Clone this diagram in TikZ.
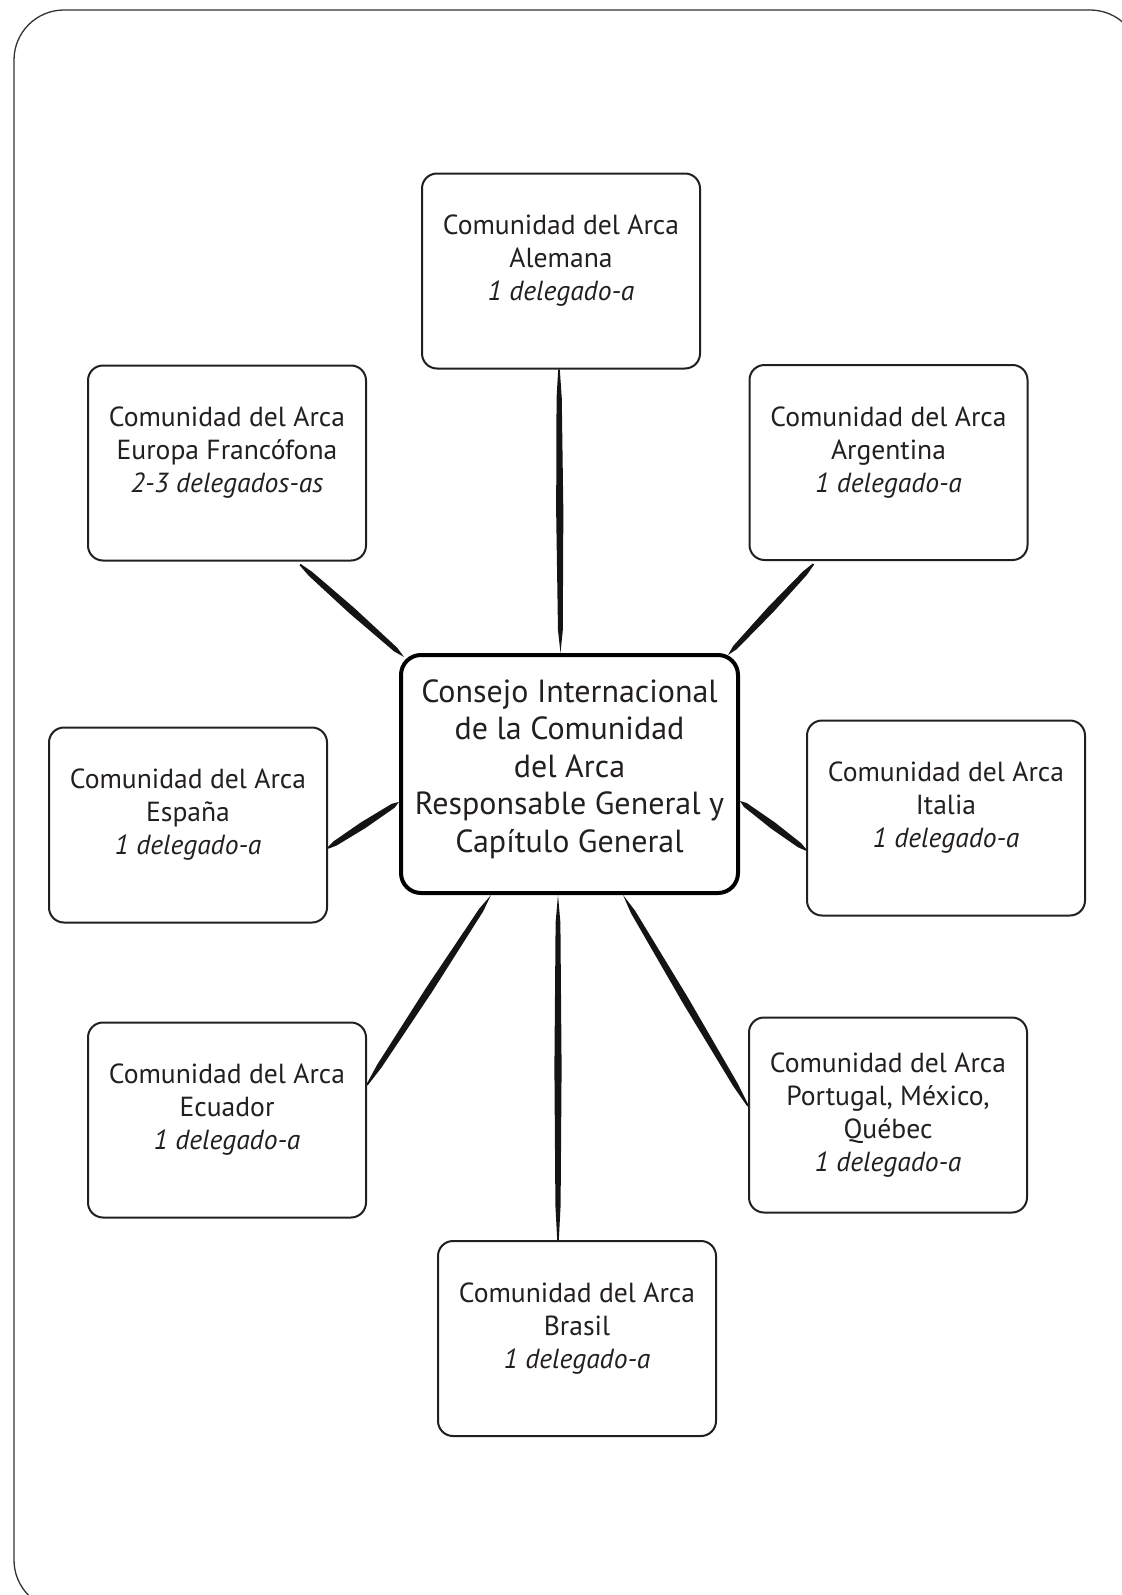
\documentclass[tikz,border=0pt]{standalone}
\usepackage{fontspec}
\setmainfont{PT Sans}
\usetikzlibrary{calc}
\definecolor{ink}{HTML}{231F20}
\tikzset{
  box/.style={draw=ink, line width=1pt, rounded corners=7.5pt, fill=white,
    minimum width=139pt, minimum height=97.5pt, inner sep=0pt},
  cbox/.style={draw=black, line width=2pt, rounded corners=10pt, fill=white,
    minimum width=168.5pt, minimum height=119pt, inner sep=0pt},
  btext/.style={align=center, text=ink, font=\fontsize{13.8}{16.5}\selectfont, inner sep=0pt},
  ctext/.style={align=center, text=ink, font=\fontsize{16}{18.7}\selectfont, inner sep=0pt},
  frame/.style={draw=black!80, line width=0.65pt, rounded corners=25pt},
  brushfill/.style={fill=black!92}
}
\newcommand{\brush}[2]{%
  \fill[brushfill] ($(#1)!0.4pt!90:(#2)$)
   -- ($(#1)!0.1!(#2)!1.3pt!90:(#2)$)
   -- ($(#1)!0.5!(#2)!1.8pt!90:(#2)$)
   -- ($(#1)!0.92!(#2)!1.2pt!90:(#2)$)
   -- (#2)
   -- ($(#1)!0.92!(#2)!1.2pt!-90:(#2)$)
   -- ($(#1)!0.5!(#2)!1.8pt!-90:(#2)$)
   -- ($(#1)!0.1!(#2)!1.3pt!-90:(#2)$)
   -- ($(#1)!0.4pt!-90:(#2)$)
   -- cycle;}
\begin{document}
\begin{tikzpicture}[x=0.5pt, y=-0.5pt]
\useasboundingbox (0,0) rectangle (1122,1595);
\draw[frame] (14,10) rectangle (1140,1610);

% boxes
\node[box] (ale) at (561,271) {};
\node[box] (eur) at (227,463) {};
\node[box] (arg) at (888.5,462.5) {};
\node[box] (esp) at (188,825) {};
\node[box] (ita) at (946,818) {};
\node[box] (ecu) at (227,1120) {};
\node[box] (por) at (888,1115) {};
\node[box] (bra) at (577,1338.5) {};
\node[cbox] (cen) at (569.5,774) {};

% texts
\node[btext] (ale-t) at ($(ale)+(0,-10)$) {Comunidad del Arca\\Alemana\\\textit{1 delegado-a}};
\node[btext] (eur-t) at ($(eur)+(0,-10)$) {Comunidad del Arca\\Europa Francófona\\\textit{2-3 delegados-as}};
\node[btext] (arg-t) at ($(arg)+(0,-10)$) {Comunidad del Arca\\Argentina\\\textit{1 delegado-a}};
\node[btext] (esp-t) at ($(esp)+(0,-10)$) {Comunidad del Arca\\España\\\textit{1 delegado-a}};
\node[btext] (ita-t) at ($(ita)+(0,-10)$) {Comunidad del Arca\\Italia\\\textit{1 delegado-a}};
\node[btext] (ecu-t) at ($(ecu)+(0,-10)$) {Comunidad del Arca\\Ecuador\\\textit{1 delegado-a}};
\node[btext] (por-t) at ($(por)+(0,0)$) {Comunidad del Arca\\Portugal, México,\\Québec\\\textit{1 delegado-a}};
\node[btext] (bra-t) at ($(bra)+(0,-10)$) {Comunidad del Arca\\Brasil\\\textit{1 delegado-a}};
\node[ctext] (cen-t) at ($(cen)+(0,-5)$) {Consejo Internacional\\de la Comunidad\\del Arca\\Responsable General y\\Capítulo General};

% connector end points
\coordinate (p-ale) at ($(ale.south)+(-2,0)$);
\coordinate (q-ale) at ($(cen.north)+(-9,0)$);
\coordinate (p-eur) at ($(eur.south)+(73,3)$);
\coordinate (q-eur) at ($(cen.north west)+(5,4)$);
\coordinate (p-arg) at ($(arg.south)+(-75,3)$);
\coordinate (q-arg) at ($(cen.north east)+(-12,2)$);
\coordinate (p-esp) at ($(esp.east)+(0,23)$);
\coordinate (q-esp) at ($(cen.west)+(0,28)$);
\coordinate (p-ita) at ($(ita.west)+(0,32)$);
\coordinate (q-ita) at ($(cen.east)+(0,27)$);
\coordinate (p-ecu) at ($(ecu.east)+(0,-35)$);
\coordinate (q-ecu) at ($(cen.south)+(-78.5,0)$);
\coordinate (p-por) at ($(por.west)+(0,-9)$);
\coordinate (q-por) at ($(cen.south)+(53.5,0)$);
\coordinate (p-bra) at ($(bra.north)+(-19,0)$);
\coordinate (q-bra) at ($(cen.south)+(-11.5,0)$);

\brush{p-ale}{q-ale}
\brush{p-eur}{q-eur}
\brush{p-arg}{q-arg}
\brush{p-esp}{q-esp}
\brush{p-ita}{q-ita}
\brush{p-ecu}{q-ecu}
\brush{p-por}{q-por}
\brush{p-bra}{q-bra}
\end{tikzpicture}
\end{document}
